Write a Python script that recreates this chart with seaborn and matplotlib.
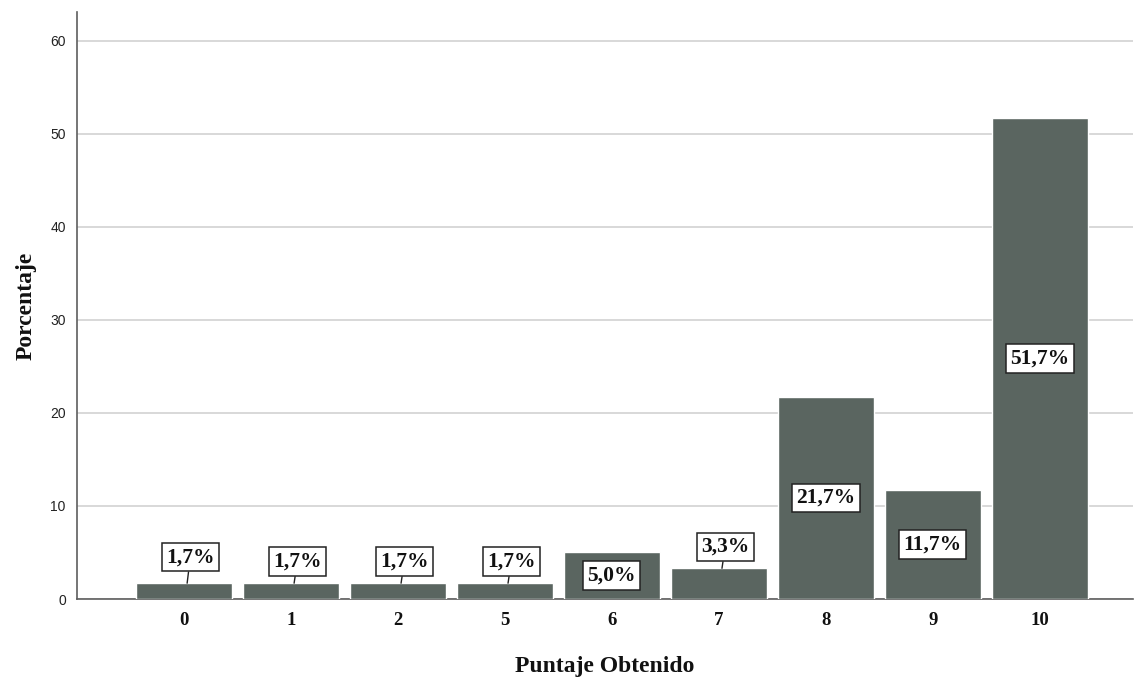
import matplotlib
matplotlib.use("Agg")
import matplotlib.pyplot as plt
import seaborn as sns
import pandas as pd

# Score distribution (percent of students per score)
puntajes = ["0", "1", "2", "5", "6", "7", "8", "9", "10"]
porcentajes = [1.7, 1.7, 1.7, 1.7, 5.0, 3.3, 21.7, 11.7, 51.7]
etiquetas = ["1,7%", "1,7%", "1,7%", "1,7%", "5,0%", "3,3%", "21,7%", "11,7%", "51,7%"]

df = pd.DataFrame({"Puntaje": puntajes, "Porcentaje": porcentajes})

sns.set_theme(style="white")
plt.rcParams["font.family"] = ["Liberation Sans", "DejaVu Sans"]

fig = plt.figure(figsize=(11.35, 6.77), dpi=100)
ax = fig.add_axes([0.0678, 0.1152, 0.9302, 0.8670])

bar_color = "#5a6560"
sns.barplot(data=df, x="Puntaje", y="Porcentaje", order=puntajes,
            color=bar_color, saturation=1, width=0.9, ax=ax, zorder=3)

ax.set_xlim(-1.0, 8.87)
ax.set_ylim(0, 63.1)
ax.set_yticks([0, 10, 20, 30, 40, 50, 60])
ax.yaxis.grid(True, color="#d2d2d2", linewidth=1.2, zorder=0)
ax.set_axisbelow(True)

for side in ["top", "right"]:
    ax.spines[side].set_visible(False)
for side in ["left", "bottom"]:
    ax.spines[side].set_color("#5e5e5e")
    ax.spines[side].set_linewidth(1.2)

ax.tick_params(axis="both", length=0)
ax.tick_params(axis="y", labelsize=10, colors="#222222", pad=8)
for lab in ax.get_xticklabels():
    lab.set_fontfamily("Liberation Serif")
    lab.set_fontweight("bold")
    lab.set_fontsize(13.5)
    lab.set_color("#111111")
ax.tick_params(axis="x", pad=9)

ax.set_xlabel("Puntaje Obtenido", fontfamily="Liberation Serif", fontweight="bold",
              fontsize=17, color="#111111", labelpad=20)
ax.set_ylabel("Porcentaje", fontfamily="Liberation Serif", fontweight="bold",
              fontsize=17, color="#111111", labelpad=10)

box = dict(boxstyle="square,pad=0.2", facecolor="white", edgecolor="#222222", linewidth=1.1)
text_kw = dict(fontfamily="Liberation Serif", fontweight="bold", fontsize=15.5,
               color="#111111", ha="center", va="center", zorder=5)

# Labels of short bars sit above the bar with a leader line; others are centered in the bar
label_above = {0: 4.5, 1: 4.0, 2: 4.0, 3: 4.0, 5: 5.6}
for i, (v, t) in enumerate(zip(porcentajes, etiquetas)):
    if i in label_above:
        ax.annotate(t, xy=(i + 0.03, v), xytext=(i + 0.06, label_above[i]),
                    bbox=box, arrowprops=dict(arrowstyle="-", color="#222222", lw=1,
                                              shrinkA=0, shrinkB=0),
                    **text_kw)
    else:
        ax.text(i, v / 2, t, bbox=box, **text_kw)

fig.savefig("out.png", dpi=100)
